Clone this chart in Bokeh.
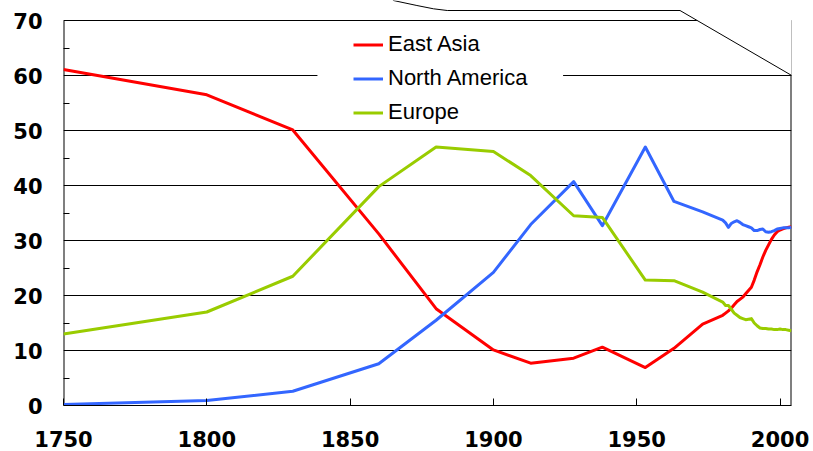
from bokeh.plotting import figure
from bokeh.models import (Range1d, FixedTicker, PolyAnnotation, BoxAnnotation,
                          Legend, LegendItem)
from bokeh.embed import file_html
from bokeh.resources import INLINE

# ---- data (shares, %) ----
years = [1750, 1800, 1830, 1860, 1880, 1900, 1913, 1928, 1938, 1953, 1963, 1973,
         1980, 1981, 1982, 1983, 1984, 1985, 1986, 1987, 1988, 1989, 1990, 1991,
         1992, 1993, 1994, 1995, 1996, 1997, 1998, 1999, 2000, 2001, 2002, 2003, 2004]
east_asia = [61.1, 56.5, 50.1, 31.2, 17.6, 10.1, 7.7, 8.6, 10.6, 6.9, 10.4, 14.8,
             16.4, 16.8, 17.2, 17.7, 18.3, 18.9, 19.3, 19.7, 20.3, 20.9, 21.5, 22.8,
             24.3, 25.6, 27.0, 28.2, 29.2, 30.2, 31.0, 31.6, 31.9, 32.1, 32.3, 32.4, 32.5]
north_america = [0.2, 0.9, 2.6, 7.6, 15.5, 24.2, 32.9, 40.7, 32.7, 47.0, 37.1, 35.2,
                 33.7, 33.2, 32.4, 33.1, 33.4, 33.6, 33.3, 32.9, 32.7, 32.5, 32.3, 31.8,
                 31.8, 32.0, 32.1, 31.6, 31.5, 31.6, 31.8, 32.1, 32.2, 32.3, 32.3, 32.3, 32.4]
europe = [13.0, 17.0, 23.5, 39.8, 47.0, 46.2, 41.8, 34.5, 34.2, 22.8, 22.7, 20.6,
          18.8, 18.2, 18.2, 17.5, 16.8, 16.4, 16.0, 15.8, 15.6, 15.7, 15.8, 15.0,
          14.5, 14.1, 14.0, 14.0, 13.9, 13.9, 13.8, 13.8, 13.9, 13.8, 13.8, 13.7, 13.6]

series_names = ["East Asia", "North America", "Europe"]
series_colors = ["#FF0000", "#3366FF", "#99CC00"]

x_ticks = [1750, 1800, 1850, 1900, 1950, 2000]
y_ticks = [0, 10, 20, 30, 40, 50, 60, 70]
y_minor_ticks = [5, 15, 25, 35, 45, 55, 65]
x_start, x_end = 1750, 2004
y_start, y_end = 0, 70
y_view_top = 73.64   # frame reaches the top edge so the overlapping shape can be drawn

TICK_FONT = "DejaVu Sans"

p = figure(width=813, height=455, x_range=Range1d(x_start, x_end), y_range=Range1d(y_start, y_view_top),
           output_backend="svg", toolbar_location=None,
           min_border_left=63, min_border_right=22, min_border_top=0, min_border_bottom=50)
p.outline_line_color = None
p.background_fill_color = "white"
p.border_fill_color = "white"
p.xgrid.visible = False

yt = FixedTicker(ticks=y_ticks, minor_ticks=y_minor_ticks)
p.yaxis.ticker = yt
p.ygrid.ticker = yt
p.ygrid.grid_line_color = "black"
p.ygrid.grid_line_width = 1
p.yaxis.axis_line_color = None
p.yaxis.major_tick_in = 0
p.yaxis.major_tick_out = 0
p.yaxis.minor_tick_in = 6
p.yaxis.minor_tick_out = 0
p.yaxis.minor_tick_line_color = "black"
p.yaxis.major_label_standoff = 21

p.xaxis.ticker = FixedTicker(ticks=x_ticks, minor_ticks=[])
p.xaxis.axis_line_color = "black"
p.xaxis.major_tick_in = 7
p.xaxis.major_tick_out = 0
p.xaxis.major_tick_line_color = "black"
p.xaxis.major_label_standoff = 25

for ax in (p.xaxis, p.yaxis):
    ax.major_label_text_font = TICK_FONT
    ax.major_label_text_font_style = "bold"
    ax.major_label_text_font_size = "21px"
    ax.major_label_text_color = "black"

# left and right borders (0..70 only)
p.segment(x0=[x_start, x_end], y0=[y_start, y_start], x1=[x_start, x_end], y1=[y_end, y_end],
          line_color="black", line_width=2)

renderers = []
for vals, col in zip([east_asia, north_america, europe], series_colors):
    r = p.line(years, vals, line_color=col, line_width=3, line_join="round")
    renderers.append(r)

# white legend backdrop
p.add_layout(BoxAnnotation(left=1838.6, right=1924.3, bottom=50.7, top=69.6,
                           fill_color="white", fill_alpha=1, line_color=None))

legend = Legend(items=[LegendItem(label=n, renderers=[r]) for n, r in zip(series_names, renderers)],
                location=(290, 280), padding=0, margin=0, spacing=8,
                label_height=25, glyph_height=25, glyph_width=30, label_standoff=5,
                label_text_font="Liberation Sans", label_text_font_size="22px",
                label_text_color="black", background_fill_alpha=0, border_line_color=None)
p.add_layout(legend, "center")

# overlapping shape in the top-right corner
shape_xs = [1865.1, 1873.3, 1879.1, 1883.9, 1965.1, 2012.0, 2012.0, 1865.1]
shape_ys = [73.64, 72.73, 72.13, 71.82, 71.82, 57.6, 80.0, 80.0]
p.add_layout(PolyAnnotation(xs=shape_xs, ys=shape_ys,
                            fill_color="white", fill_alpha=1,
                            line_color="black", line_alpha=1, line_width=1))

open("out.html", "w").write(file_html(p, INLINE))
